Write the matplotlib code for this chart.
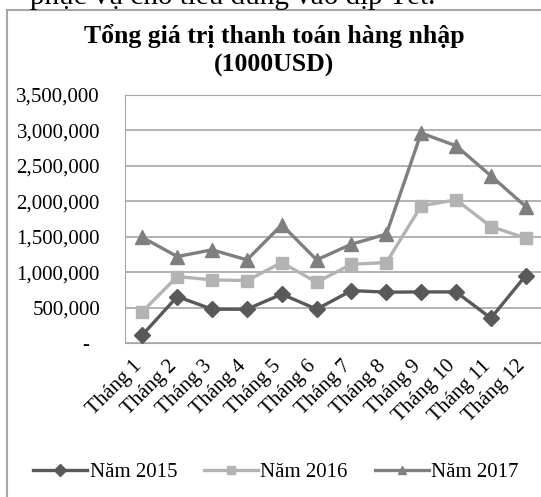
import matplotlib
matplotlib.use("Agg")
import matplotlib.pyplot as plt
from matplotlib.lines import Line2D
from matplotlib.ticker import FuncFormatter, MultipleLocator
from matplotlib.transforms import ScaledTranslation

plt.rcParams["font.family"] = ["Liberation Serif", "DejaVu Serif"]

months = ["Tháng 1", "Tháng 2", "Tháng 3", "Tháng 4", "Tháng 5", "Tháng 6",
          "Tháng 7", "Tháng 8", "Tháng 9", "Tháng 10", "Tháng 11", "Tháng 12"]
nam_2015 = [113000, 654000, 476000, 476000, 688000, 476000,
            739000, 716000, 720000, 720000, 349000, 951000]
nam_2016 = [442000, 937000, 890000, 880000, 1134000, 857000,
            1111000, 1134000, 1935000, 2020000, 1643000, 1479000]
nam_2017 = [1490000, 1219000, 1314000, 1172000, 1667000, 1172000,
            1394000, 1535000, 2962000, 2782000, 2359000, 1925000]

series = [
    ("Năm 2015", nam_2015, "#595959", "D", 8),
    ("Năm 2016", nam_2016, "#b3b3b3", "s", 9),
    ("Năm 2017", nam_2017, "#7f7f7f", "^", 10),
]

fig = plt.figure(figsize=(5.41, 4.97), dpi=100)
ax = fig.add_axes([0.231, 0.31, 0.773, 0.499])

x = range(len(months))
handles = []
for label, values, color, marker, ms in series:
    ax.plot(x, values, color=color, lw=2.4, marker=marker, markersize=ms,
            markeredgecolor=color, zorder=3)
    handles.append(Line2D([], [], color=color, lw=2.4, marker=marker,
                          markersize=6, label=label))

ax.set_xlim(-0.5, len(months) - 0.5)
ax.set_ylim(0, 3500000)
ax.yaxis.set_major_locator(MultipleLocator(500000))
ax.yaxis.set_major_formatter(FuncFormatter(
    lambda v, p: "-  " if v == 0 else f"{int(v):,}"))
ax.grid(axis="y", color="#a6a6a6", lw=1.2)
ax.set_axisbelow(True)
for s in ax.spines.values():
    s.set_color("#a6a6a6")
ax.tick_params(axis="y", length=0, pad=18, labelsize=15)
ax.tick_params(axis="x", length=0, pad=10, labelsize=15)
ax.set_xticks(list(x))
ax.set_xticklabels(months, rotation=45, ha="right", va="top",
                   rotation_mode="anchor")
shift = ScaledTranslation(-10 / 100, 0, fig.dpi_scale_trans)
for lab in ax.get_xticklabels():
    lab.set_transform(lab.get_transform() + shift)

fig.text(0.507, 0.898, "Tổng giá trị thanh toán hàng nhập\n(1000USD)",
         ha="center", va="center", fontsize=18.5, fontweight="bold",
         linespacing=1.3)
fig.text(0.055, 0.992, "phục vụ cho tiêu dùng vào dịp Tết.",
         ha="left", va="baseline", fontsize=21)

fig.add_artist(Line2D([0.013, 0.013], [0.0, 0.98], color="#a6a6a6", lw=1.5))
fig.add_artist(Line2D([0.013, 1.0], [0.98, 0.98], color="#a6a6a6", lw=1.5))

fig.legend(handles=handles, loc="center", bbox_to_anchor=(0.51, 0.05),
           ncol=3, frameon=False, fontsize=15, handlelength=2.6,
           handletextpad=0.1, columnspacing=1.3)

fig.savefig("out.png", dpi=100)
